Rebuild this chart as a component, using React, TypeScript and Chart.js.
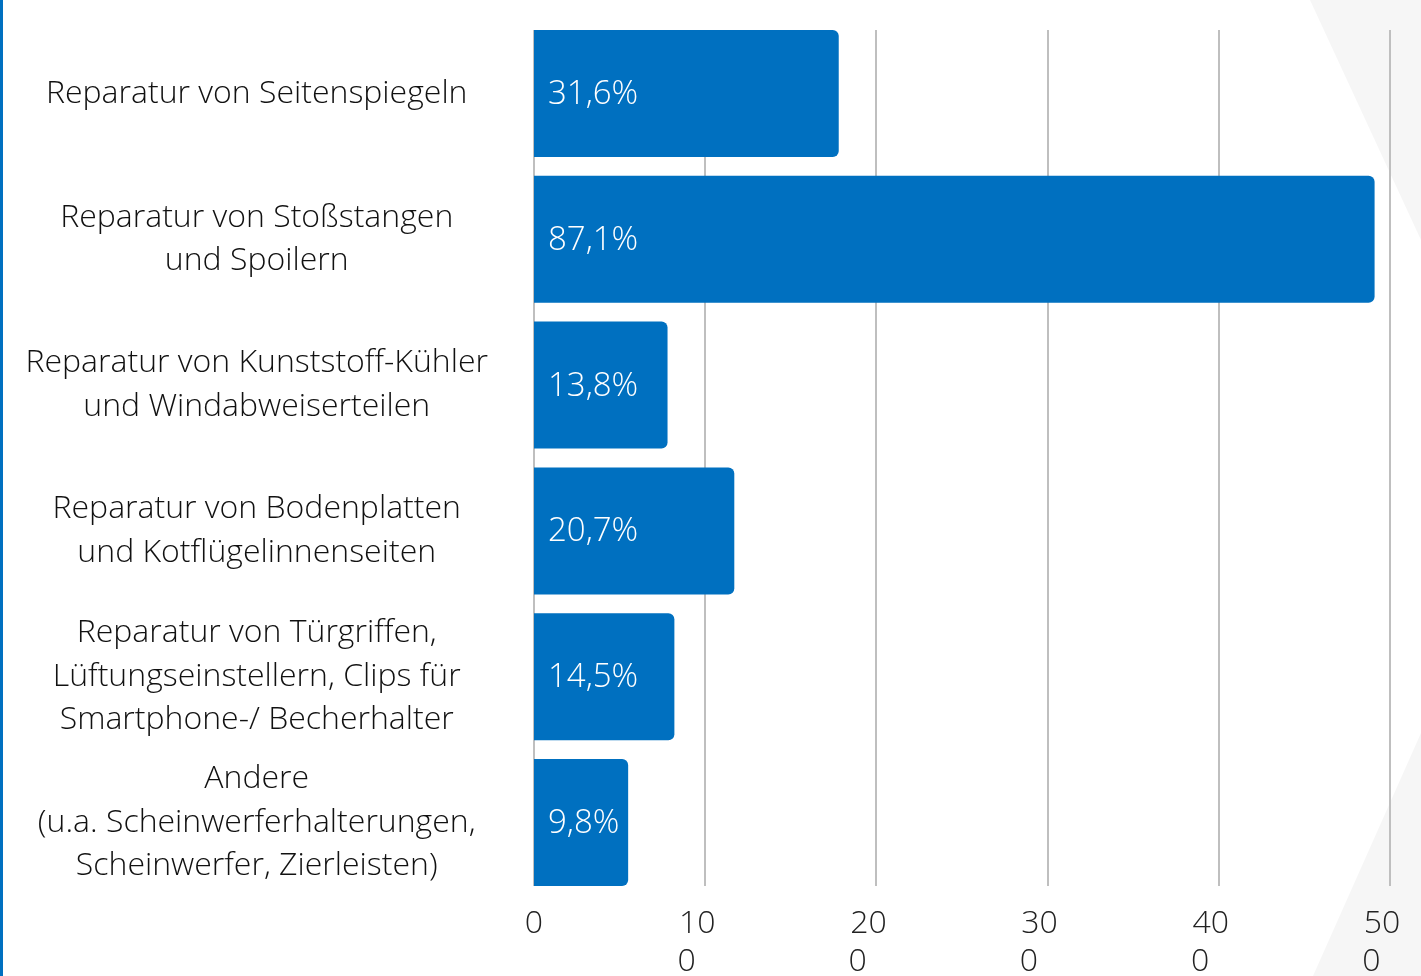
import React, { useEffect, useRef } from "react";
import { Chart, registerables } from "chart.js";

Chart.register(...registerables);

const categories: string[][] = [
  ["Reparatur von Seitenspiegeln"],
  ["Reparatur von Stoßstangen", "und Spoilern"],
  ["Reparatur von Kunststoff-Kühler", "und Windabweiserteilen"],
  ["Reparatur von Bodenplatten", "und Kotflügelinnenseiten"],
  ["Reparatur von Türgriffen,", "Lüftungseinstellern, Clips für", "Smartphone-/ Becherhalter"],
  ["Andere", "(u.a. Scheinwerferhalterungen,", "Scheinwerfer, Zierleisten)"],
];
const counts: number[] = [178, 491, 78, 117, 82, 55];
const percentLabels: string[] = ["31,6%", "87,1%", "13,8%", "20,7%", "14,5%", "9,8%"];
const xMin = 0;
const xMax = 500;
const xStep = 100;

const BLUE = "#0070C0";
const FONT = "'Open Sans'";

const decoPlugin = {
  id: "deco",
  beforeDraw(chart: any) {
    const { ctx, width, height } = chart;
    ctx.save();
    ctx.fillStyle = "#F6F6F6";
    ctx.beginPath();
    ctx.moveTo(1310, 0);
    ctx.lineTo(width, 0);
    ctx.lineTo(width, 240);
    ctx.closePath();
    ctx.fill();
    ctx.beginPath();
    ctx.moveTo(width, 733);
    ctx.lineTo(width, height);
    ctx.lineTo(1313, height);
    ctx.closePath();
    ctx.fill();
    ctx.fillStyle = BLUE;
    ctx.fillRect(0, 0, 3, height);
    ctx.restore();
  },
  beforeDatasetsDraw(chart: any) {
    const { ctx } = chart;
    const meta = chart.getDatasetMeta(0);
    const first = meta.data[0];
    const last = meta.data[meta.data.length - 1];
    const top = first.y - first.height / 2;
    const bottom = last.y + last.height / 2;
    const xs = chart.scales.x;
    ctx.save();
    ctx.strokeStyle = "#BFBFBF";
    ctx.lineWidth = 2;
    xs.ticks.forEach((t: any) => {
      const px = Math.round(xs.getPixelForValue(t.value));
      ctx.beginPath();
      ctx.moveTo(px, top);
      ctx.lineTo(px, bottom);
      ctx.stroke();
    });
    ctx.restore();
  },
  afterDatasetsDraw(chart: any) {
    const { ctx } = chart;
    const meta = chart.getDatasetMeta(0);
    ctx.save();
    ctx.fillStyle = "#FFFFFF";
    ctx.font = `300 33px ${FONT}`;
    ctx.textAlign = "left";
    ctx.textBaseline = "middle";
    meta.data.forEach((bar: any, i: number) => {
      ctx.fillText(percentLabels[i], bar.base + 14, bar.y + 1);
    });
    ctx.restore();
  },
};

export default function App() {
  const ref = useRef<HTMLCanvasElement>(null);
  useEffect(() => {
    document.body.style.margin = "0";
    const chart = new Chart(ref.current as HTMLCanvasElement, {
      type: "bar",
      data: {
        labels: categories,
        datasets: [
          {
            data: counts,
            backgroundColor: BLUE,
            borderRadius: 6,
            borderSkipped: "start",
            categoryPercentage: 1,
            barPercentage: 0.871,
          },
        ],
      },
      options: {
        indexAxis: "y",
        animation: false,
        responsive: false,
        layout: { padding: { top: 20.6, bottom: 0.6, left: 0, right: 31 } },
        plugins: { legend: { display: false }, tooltip: { enabled: false } },
        scales: {
          x: {
            min: xMin,
            max: xMax,
            ticks: {
              stepSize: xStep,
              padding: 9,
              color: "#222222",
              font: { family: FONT, size: 32, weight: "300", lineHeight: 1.2 },
              maxRotation: 0,
              autoSkip: false,
              callback: (v: any) => {
                const s = String(v);
                if (s.length < 3) return s;
                return [s.slice(0, 2) + "\u2002", s.slice(2) + "\u2003\u2009"];
              },
            },
            grid: { display: false, drawTicks: false },
            border: { display: false },
            afterFit: (scale: any) => {
              scale.height = 80;
              scale.paddingLeft = 0;
              scale.paddingRight = 0;
            },
          },
          y: {
            ticks: {
              crossAlign: "center",
              padding: 46,
              color: "#111111",
              font: { family: FONT, size: 32, weight: "300", lineHeight: 1.36 },
              autoSkip: false,
            },
            grid: { display: false, drawTicks: false },
            border: { display: false },
            afterFit: (scale: any) => {
              scale.width = 534;
              scale.paddingTop = 0;
              scale.paddingBottom = 0;
            },
          },
        },
      },
      plugins: [decoPlugin],
    });
    return () => chart.destroy();
  }, []);
  return (
    <div style={{ position: "fixed", left: 0, top: 0, width: 1421, height: 976, background: "#fff" }}>
      <canvas ref={ref} width={1421} height={976} style={{ width: 1421, height: 976, display: "block" }} />
    </div>
  );
}
